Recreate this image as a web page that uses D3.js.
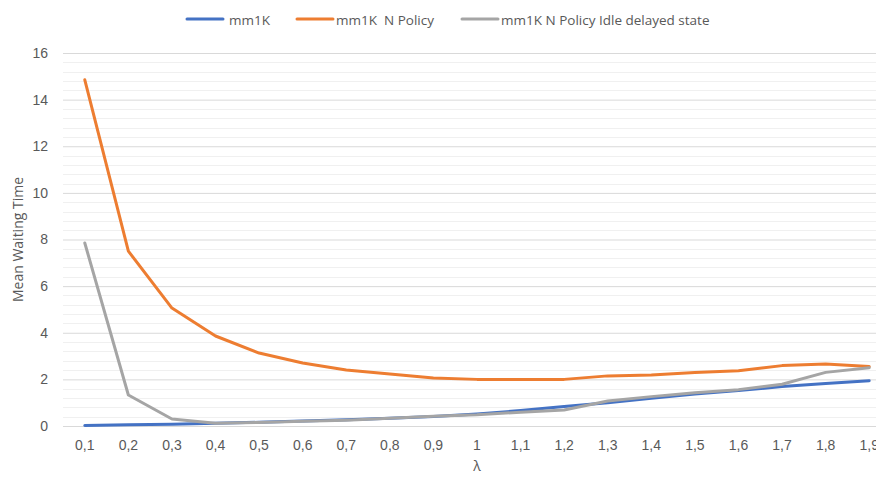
<!DOCTYPE html>
<html>
<head>
<meta charset="utf-8">
<script src="https://cdn.jsdelivr.net/npm/d3@7"></script>
<style>
  html, body { margin: 0; padding: 0; background: #fff; overflow: hidden; }
  svg { display: block; font-family: "Open Sans", "Liberation Sans", sans-serif; }
</style>
</head>
<body>
<svg id="chart" width="876" height="478"></svg>
<script>
// Arrival rates (categories)
const lambdas = ["0,1","0,2","0,3","0,4","0,5","0,6","0,7","0,8","0,9","1","1,1","1,2","1,3","1,4","1,5","1,6","1,7","1,8","1,9"];

// Mean waiting time per series
const mm1k = [0.02,0.05,0.08,0.12,0.16,0.21,0.27,0.33,0.41,0.52,0.66,0.84,1.0,1.19,1.37,1.52,1.69,1.82,1.94];
const mm1kNPolicy = [14.85,7.5,5.06,3.86,3.13,2.7,2.4,2.23,2.06,2.0,2.0,2.0,2.15,2.19,2.29,2.37,2.59,2.66,2.55];
const mm1kNPolicyIdle = [7.85,1.33,0.3,0.12,0.15,0.2,0.25,0.33,0.42,0.48,0.59,0.69,1.07,1.26,1.43,1.56,1.79,2.3,2.5];

const yTicks = [0,2,4,6,8,10,12,14,16];
const seriesNames = ["mm1K", "mm1K  N Policy", "mm1K N Policy Idle delayed state"];
const seriesColors = ["#4472C4", "#ED7D31", "#A5A5A5"];

const svg = d3.select("#chart");
const plotLeft = 63, plotRight = 891; // plot area runs slightly past the canvas edge
const plotTop = 53, plotBottom = 426;

const x = d3.scaleBand().domain(lambdas).range([plotLeft, plotRight]);
const y = d3.scaleLinear().domain([0, 16]).range([plotBottom, plotTop]);

// Minor gridlines every 0.4
const minor = d3.range(0, 16.001, 0.4).filter(v => Math.abs(v / 2 - Math.round(v / 2)) > 1e-6);
svg.append("g").selectAll("line").data(minor).join("line")
  .attr("x1", plotLeft).attr("x2", plotRight)
  .attr("y1", d => Math.round(y(d)) + 0.5).attr("y2", d => Math.round(y(d)) + 0.5)
  .attr("stroke", "#f0f0f0").attr("stroke-width", 1);

// Major gridlines + y labels
const yAxis = d3.axisLeft(y).tickValues(yTicks).tickSize(-(plotRight - plotLeft)).tickPadding(15);
const gy = svg.append("g").attr("transform", `translate(${plotLeft},0)`).call(yAxis);
gy.select(".domain").remove();
gy.selectAll(".tick line").attr("stroke", "#d9d9d9").attr("stroke-width", 1);
gy.selectAll(".tick text").attr("fill", "#595959").style("font-size", "14px").style("font-family", "inherit");

// X axis
const xAxis = d3.axisBottom(x).tickSize(0).tickPadding(14);
const gx = svg.append("g").attr("transform", `translate(0,${y(0)})`).call(xAxis);
gx.select(".domain").attr("stroke", "#d9d9d9");
gx.selectAll(".tick text").attr("fill", "#595959").style("font-size", "14px").style("font-family", "inherit");

// Lines
const line = d3.line().x((d, i) => x(lambdas[i]) + x.bandwidth() / 2).y(d => y(d));
[mm1k, mm1kNPolicy, mm1kNPolicyIdle].forEach((s, i) => {
  svg.append("path").datum(s)
    .attr("d", line)
    .attr("fill", "none")
    .attr("stroke", seriesColors[i])
    .attr("stroke-width", 3)
    .attr("stroke-linejoin", "round")
    .attr("stroke-linecap", "round");
});

// Axis titles
svg.append("text").attr("x", (plotLeft + plotRight) / 2).attr("y", 471).attr("text-anchor", "middle")
  .attr("fill", "#595959").style("font-size", "14px").text("λ");
svg.append("text").attr("transform", `translate(23,${(plotTop + plotBottom) / 2}) rotate(-90)`).attr("text-anchor", "middle")
  .attr("fill", "#595959").style("font-size", "14px").text("Mean Waiting Time");

// Legend
const legendX = [187, 297, 462];
const lg = svg.append("g");
seriesNames.forEach((n, i) => {
  lg.append("line").attr("x1", legendX[i]).attr("x2", legendX[i] + 36)
    .attr("y1", 19).attr("y2", 19)
    .attr("stroke", seriesColors[i]).attr("stroke-width", 3).attr("stroke-linecap", "round");
  lg.append("text").attr("x", legendX[i] + (i === 0 ? 42 : 39)).attr("y", 24.5)
    .attr("fill", "#595959").style("font-size", "13.5px").style("white-space", "pre").text(n);
});
</script>
</body>
</html>
